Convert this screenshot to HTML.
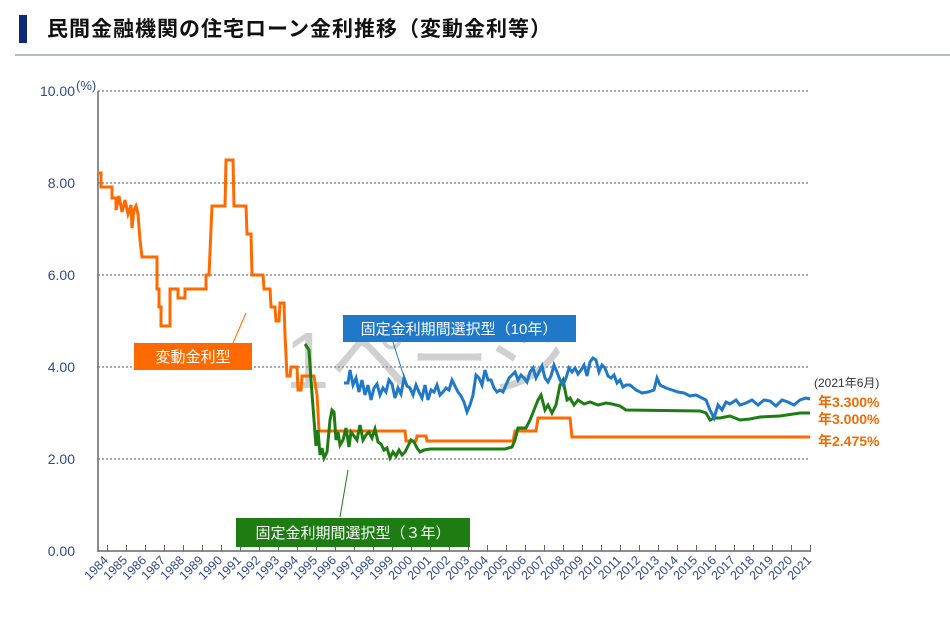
<!DOCTYPE html>
<html><head><meta charset="utf-8"><style>
body{margin:0;background:#fff;width:950px;height:612px;overflow:hidden;font-family:"Liberation Sans","Noto Sans CJK JP",sans-serif}
</style></head><body>
<svg width="950" height="612" xmlns="http://www.w3.org/2000/svg" font-family="Liberation Sans, Noto Sans CJK JP, sans-serif">
<rect x="19" y="15" width="8" height="28" fill="#0d2a78"/>
<text x="47" y="36" font-size="21" letter-spacing="1" font-weight="bold" fill="#111">民間金融機関の住宅ローン金利推移（変動金利等）</text>
<line x1="15" y1="55" x2="950" y2="55" stroke="#b8bcc8" stroke-width="2"/>
<g stroke="#555" stroke-width="1" stroke-dasharray="2,2">
<line x1="98" y1="91" x2="810" y2="91"/><line x1="98" y1="183" x2="810" y2="183"/><line x1="98" y1="275" x2="810" y2="275"/><line x1="98" y1="367" x2="810" y2="367"/><line x1="98" y1="459" x2="810" y2="459"/>
</g>
<line x1="98" y1="91" x2="98" y2="552" stroke="#666" stroke-width="1.5"/>
<line x1="98" y1="551" x2="811" y2="551" stroke="#666" stroke-width="1.5"/>
<g fill="#2f4a8a" font-size="14" text-anchor="end">
<text x="75" y="96">10.00</text><text x="75" y="188">8.00</text><text x="75" y="280">6.00</text><text x="75" y="372">4.00</text><text x="75" y="464">2.00</text><text x="75" y="556">0.00</text>
</g>
<text x="76" y="90" font-size="13" fill="#2f4a8a">(%)</text>
<g id="ticks" stroke="#666" stroke-width="1"></g>
<g id="years" fill="#2f4a8a" font-size="12.5"></g>
<text x="285" y="388" font-size="80" fill="#999" opacity="0.45">1ページ</text>
<polyline fill="none" stroke="#ff6a00" stroke-width="3" points="98,173 101,173 101,187 112,187 112,198 116,198 116,210 119,196 122,212 125,200 128,214 131,205 132,228 134,210 136,206 138,214 140,240 142,257 157,257 157,289 159,289 159,307 161,307 161,326 170,326 170,289 178,289 178,298 185,298 185,289 206,289 206,275 209,275 210,252 212,206 225,206 226,160 233,160 234,206 246,206 247,234 251,234 252,275 263,275 264,289 270,289 271,307 275,307 276,321 279,321 280,303 284,303 285,335 287,376 290,376 291,367 297,367 298,390 301,390 302,376 314,376 317,395 319,431 405,431 406,441 416,441 417,436 426,436 427,441 513,441 515,431 536,431 538,418 570,418 572,437 810,437"/>
<polyline fill="none" stroke="#1e7d12" stroke-width="3" points="305,344 309,350 311,380 314,420 316,446 318,430 320,455 322,448 324,458 327,452 330,420 332,410 334,412 336,440 338,432 340,445 343,440 346,428 349,447 351,432 354,436 357,440 360,425 363,440 366,435 369,432 372,438 375,429 378,442 381,444 384,450 387,448 390,458 393,452 396,456 399,450 402,455 405,452 408,446 411,440 414,442 417,448 420,452 424,450 430,449 505,449 512,447 515,440 518,428 526,428 530,420 534,410 538,400 541,395 545,410 548,405 552,413 556,405 560,385 563,380 567,400 570,398 574,405 578,400 584,404 590,402 598,405 606,403 612,404 620,406 626,410 700,411 706,413 710,420 714,418 720,418 730,416 740,420 750,419 760,417 780,416 800,413 810,413"/>
<polyline fill="none" stroke="#1f78c8" stroke-width="3" points="344,383 348,383 350,370 353,385 356,378 359,392 362,380 365,395 368,385 371,400 374,388 377,384 380,395 383,388 386,392 389,380 392,384 395,398 398,388 401,394 404,378 407,386 410,388 413,395 416,385 419,392 422,398 425,385 428,400 431,390 434,392 437,385 440,395 443,392 446,388 449,390 452,380 455,386 458,392 461,396 464,402 467,412 470,405 473,395 476,375 479,378 482,385 485,370 488,380 491,380 494,388 497,392 500,390 503,392 506,385 509,378 512,375 515,372 518,380 521,375 524,378 527,382 530,372 533,368 536,378 539,372 542,366 545,378 548,382 551,376 554,365 557,372 560,380 563,385 566,378 569,368 572,372 575,368 578,374 581,370 584,365 587,376 590,362 593,358 596,360 599,372 602,365 605,368 608,376 611,378 614,375 617,383 620,380 623,387 626,385 630,385 636,390 642,393 648,392 654,390 657,378 660,385 666,388 672,390 678,392 684,393 690,396 696,395 702,398 706,400 710,410 714,418 718,405 722,410 726,402 730,404 736,400 740,405 746,403 752,400 758,405 764,400 770,401 776,406 782,400 788,402 794,405 800,400 806,398 810,399"/>
<line x1="233" y1="343" x2="246" y2="313" stroke="#ff6a00" stroke-width="1"/>
<line x1="393" y1="342" x2="405" y2="380" stroke="#1f78c8" stroke-width="1"/>
<line x1="348" y1="470" x2="340" y2="517" stroke="#1e7d12" stroke-width="1"/>
<rect x="134" y="343" width="118" height="27" fill="#ff6a00"/>
<text x="193" y="362" font-size="15" fill="#fff" text-anchor="middle">変動金利型</text>
<rect x="343" y="315" width="233" height="27" fill="#1f78c8"/>
<text x="459" y="334" font-size="15" fill="#fff" text-anchor="middle">固定金利期間選択型（10年）</text>
<rect x="236" y="518" width="234" height="29" fill="#1e7d12"/>
<text x="353" y="538" font-size="15" fill="#fff" text-anchor="middle">固定金利期間選択型（３年）</text>
<text x="814" y="387" font-size="12" fill="#333">(2021年6月)</text>
<g font-size="14" font-weight="bold" fill="#f26b00">
<text x="818" y="407">年3.300%</text><text x="818" y="424">年3.000%</text><text x="818" y="446">年2.475%</text>
</g>
<script>
var t=document.getElementById('ticks'),y=document.getElementById('years'),ns='http://www.w3.org/2000/svg';
for(var i=0;i<38;i++){var x=98+19*i;
var l=document.createElementNS(ns,'line');l.setAttribute('x1',x+9.5);l.setAttribute('x2',x+9.5);l.setAttribute('y1',545);l.setAttribute('y2',551);t.appendChild(l);
var tx=document.createElementNS(ns,'text');tx.setAttribute('text-anchor','end');tx.setAttribute('transform','translate('+(x+11)+',561) rotate(-45)');tx.textContent=1984+i;y.appendChild(tx);}
</script>
</svg>
</body></html>
